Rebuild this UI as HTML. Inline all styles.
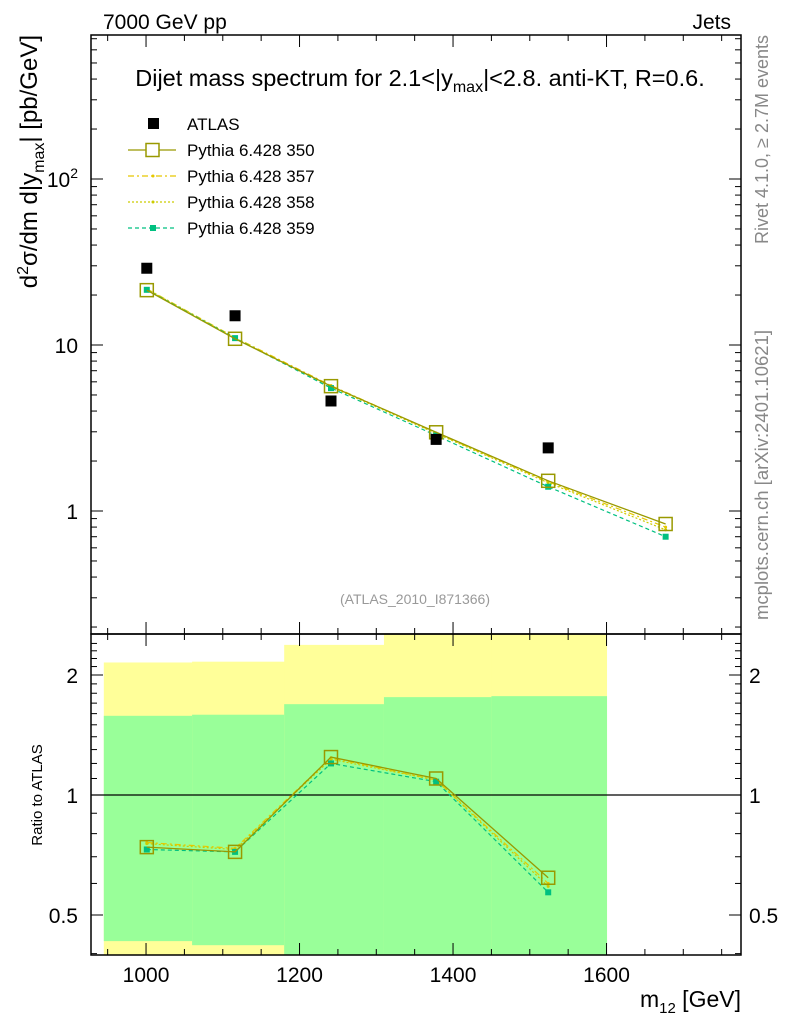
<!DOCTYPE html>
<html><head><meta charset="utf-8"><style>
body{margin:0;background:#fff;}
svg{display:block;font-family:"Liberation Sans",sans-serif;}
</style></head><body>
<svg id="c" width="786" height="1024" xmlns="http://www.w3.org/2000/svg"></svg>
<script>
const binCenters=[1001,1116,1241,1378,1524,1677];
const binEdges=[945,1060,1180,1310,1450,1600];
const atlasVals=[29,15,4.6,2.7,2.4];
const mc350=[21.4,10.9,5.65,2.98,1.52,0.835];
const mc357=[21.8,11.1,5.7,2.95,1.5,0.8];
const mc358=[21.7,11.0,5.6,2.93,1.48,0.77];
const mc359=[21.5,11.0,5.5,2.85,1.4,0.7];
const ratio350=[0.74,0.72,1.245,1.10,0.62];
const ratio357=[0.76,0.735,1.24,1.09,0.6];
const ratio358=[0.755,0.73,1.23,1.09,0.59];
const ratio359=[0.73,0.72,1.2,1.08,0.57];
const yellowHi=[2.15,2.16,2.38,2.6,2.6];
const yellowLo=[0.38,0.37,0.3,0.3,0.3];
const greenHi=[1.58,1.59,1.69,1.76,1.77];
const greenLo=[0.43,0.42,0.3,0.3,0.3];
const xTicks=[1000,1200,1400,1600];

const S=document.getElementById('c');const NS='http://www.w3.org/2000/svg';
function el(t,a,p){const e=document.createElementNS(NS,t);for(const k in a)e.setAttribute(k,a[k]);(p||S).appendChild(e);return e;}
const L=91,R=741,T=35,MB=634,RB=955;
const X=v=>91+(v-928.3)*0.7675;
const Y=v=>179-(Math.log10(v)-2)*166;
const RY=v=>795-Math.log2(v)*120;
const cp=el('clipPath',{id:'rc'});el('rect',{x:L,y:MB,width:R-L,height:RB-MB},cp);
const cm=el('clipPath',{id:'mc'});el('rect',{x:L,y:T,width:R-L,height:MB-T},cm);
const bands=el('g',{'clip-path':'url(#rc)'});

for(let i=0;i<5;i++){
 const x0=X(binEdges[i]),x1=X(i<4?binEdges[i+1]:1600);
 const y=el('rect',{x:x0,y:RY(yellowHi[i]),width:x1-x0+0.5,height:RY(yellowLo[i])-RY(yellowHi[i]),fill:'#ffff99'},bands);
 
 const g=el('rect',{x:x0,y:RY(greenHi[i]),width:x1-x0+0.5,height:RY(greenLo[i])-RY(greenHi[i]),fill:'#99ff99'},bands);
 
}
el('line',{x1:L,x2:R,y1:RY(1),y2:RY(1),stroke:'#000','stroke-width':1.2});
for(const [y0,y1] of [[T,MB],[MB,RB]])el('rect',{x:L,y:y0,width:R-L,height:y1-y0,fill:'none',stroke:'#000','stroke-width':1.5});
for(let v=950;v<=1750;v+=50){const big=v%200==0;const px=X(v);
 for(const [y0,y1] of [[T,MB],[MB,RB]]){el('line',{x1:px,x2:px,y1:y0,y2:y0+(big?12:6),stroke:'#000'});el('line',{x1:px,x2:px,y1:y1,y2:y1-(big?12:6),stroke:'#000'});}}
xTicks.forEach(v=>{const t=el('text',{x:X(v),y:982,'font-size':21,'text-anchor':'middle'});t.textContent=v;});
for(let d=-1;d<=2;d++)for(let m=1;m<10;m++){const v=m*Math.pow(10,d);const py=Y(v);if(py<T||py>MB)continue;const w=m==1?12:6;
 el('line',{x1:L,x2:L+w,y1:py,y2:py,stroke:'#000'});el('line',{x1:R,x2:R-w,y1:py,y2:py,stroke:'#000'});}
[[1,'1'],[10,'10']].forEach(([v,s])=>{const t=el('text',{x:78,y:Y(v)+8,'font-size':21,'text-anchor':'end'});t.textContent=s;});
{const t=el('text',{x:78,y:Y(100)+8,'font-size':21,'text-anchor':'end'});t.innerHTML='10<tspan dy="-9" font-size="14">2</tspan>';}
for(let v=0.4;v<=2.5;v+=0.1){const py=RY(v);if(py<MB||py>RB)continue;const big=Math.abs(v-0.5)<1e-6||Math.abs(v-1)<1e-6||Math.abs(v-2)<1e-6;const w=big?12:6;
 el('line',{x1:L,x2:L+w,y1:py,y2:py,stroke:'#000'});el('line',{x1:R,x2:R-w,y1:py,y2:py,stroke:'#000'});}
[[0.5,'0.5'],[1,'1'],[2,'2']].forEach(([v,s])=>{for(const [x,a] of [[78,'end'],[749,'start']]){const t=el('text',{x:x,y:RY(v)+8,'font-size':21,'text-anchor':a});t.textContent=s;}});
const styles=[
 {n:'pythia-350',c:'#999900',d:'',w:1.3},
 {n:'pythia-357',c:'#e6c800',d:'6,3,2,3',w:1.2},
 {n:'pythia-358',c:'#cccc00',d:'2,2',w:1.2},
 {n:'pythia-359',c:'#00c080',d:'4,3',w:1.2}];
function series(vals,st,fx,fy,clip,n){
 const g=el('g',{'clip-path':clip});
 const pts=vals.map((v,i)=>X(binCenters[i])+','+fy(v)).join(' ');
 el('polyline',{points:pts,fill:'none',stroke:st.c,'stroke-width':st.w,'stroke-dasharray':st.d},g);
 vals.forEach((v,i)=>{const px=X(binCenters[i]),py=fy(v);
  if(st.n=='pythia-350')el('rect',{x:px-6.5,y:py-6.5,width:13,height:13,fill:'none',stroke:st.c,'stroke-width':1.5},g);
  else if(st.n=='pythia-359')el('rect',{x:px-3,y:py-3,width:6,height:6,fill:st.c},g);
  else el('circle',{cx:px,cy:py,r:1.5,fill:st.c},g);});
}
[mc357,mc358,mc359,mc350].forEach((v,k)=>series(v,styles[[1,2,3,0][k]],X,Y,'url(#mc)','main'));
[ratio357,ratio358,ratio359,ratio350].forEach((v,k)=>series(v,styles[[1,2,3,0][k]],X,RY,'url(#rc)','ratio'));
atlasVals.forEach((v,i)=>{const r=el('rect',{x:X(binCenters[i])-5.5,y:Y(v)-5.5,width:11,height:11,fill:'#000'});});
function txt(x,y,s,fs,a,name,extra){const t=el('text',Object.assign({x:x,y:y,'font-size':fs,'text-anchor':a||'start'},extra||{}));t.innerHTML=s;return t;}
txt(103,29,'7000 GeV pp',21,'start','energy-label');
txt(731,29,'Jets',21,'end','process-label');
txt(420,86,'Dijet mass spectrum for 2.1&lt;|y<tspan dy="6" font-size="16">max</tspan><tspan dy="-6">|&lt;2.8.  anti-KT, R=0.6.</tspan>',23.5,'middle','plot-title',{'xml:space':'preserve'});
txt(415,604,'(ATLAS_2010_I871366)',14,'middle','analysis-id',{fill:'#999'});
txt(741,1007,'m<tspan dy="6" font-size="15">12</tspan><tspan dy="-6"> [GeV]</tspan>',23,'end','x-axis-title');
txt(0,0,'d<tspan dy="-9" font-size="16">2</tspan><tspan dy="9">σ/dm d|y</tspan><tspan dy="7" font-size="16">max</tspan><tspan dy="-7">| [pb/GeV]</tspan>',24,'end','y-axis-title',{transform:'translate(37,35) rotate(-90)'});
txt(0,0,'Ratio to ATLAS',15,'middle','ratio-axis-title',{transform:'translate(42,795) rotate(-90)'});
txt(0,0,'Rivet 4.1.0, ≥ 2.7M events',18,'end','rivet-label',{transform:'translate(768,35) rotate(-90)',fill:'#888'});
txt(0,0,'mcplots.cern.ch [arXiv:2401.10621]',18.5,'end','mcplots-label',{transform:'translate(768,330) rotate(-90)',fill:'#888'});
const lg=el('g',{});
el('rect',{x:148,y:118,width:11,height:11,fill:'#000'},lg);
txt(187,130,'ATLAS',17,'start','legend-entry-atlas');
const ly=[150,176,202,228],names=['350','357','358','359'];
styles.forEach((st,k)=>{const y=ly[k];
 el('line',{x1:128,x2:176,y1:y,y2:y,stroke:st.c,'stroke-width':st.w,'stroke-dasharray':st.d},lg);
 if(k==0)el('rect',{x:146,y:y-6.5,width:13,height:13,fill:'#fff',stroke:st.c,'stroke-width':1.5},lg);
 else if(k==3)el('rect',{x:150,y:y-3,width:6,height:6,fill:st.c},lg);
 else el('circle',{cx:153,cy:y,r:1.5,fill:st.c},lg);
 txt(187,y+6,'Pythia 6.428 '+names[k],17,'start','legend-entry-'+names[k]);});
</script>
</body></html>
